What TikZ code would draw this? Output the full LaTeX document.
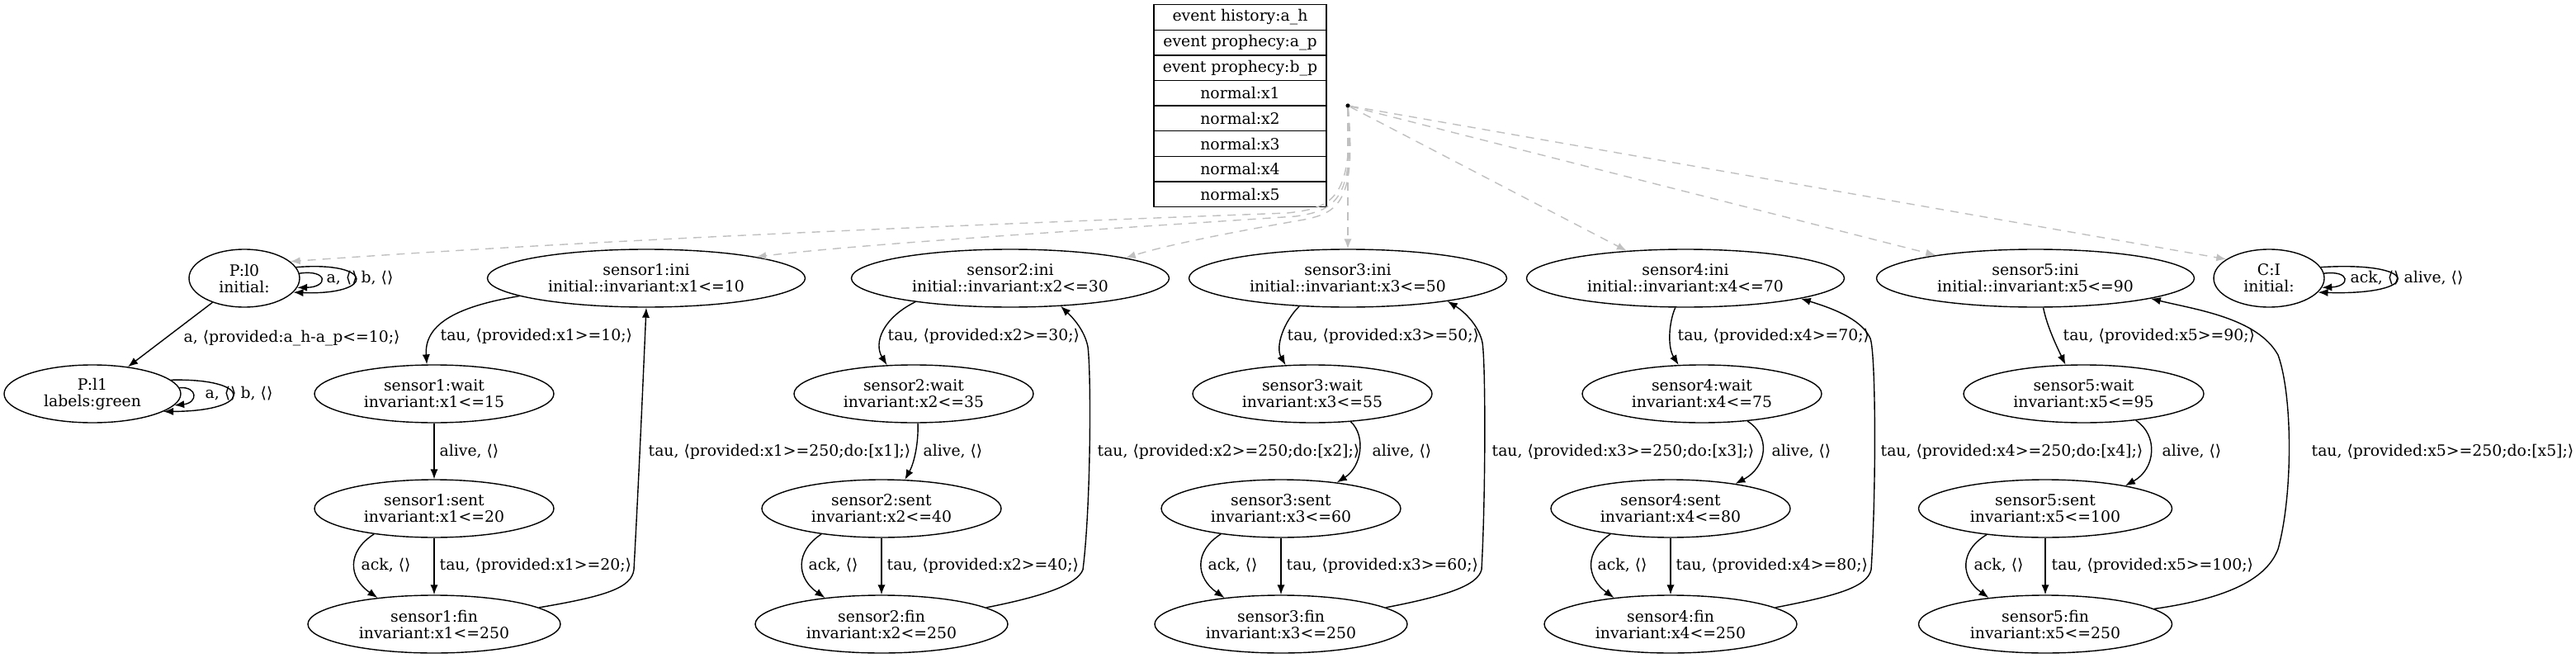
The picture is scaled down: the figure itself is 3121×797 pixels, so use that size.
\documentclass[tikz,border=0pt]{standalone}
\usepackage{fontspec}
\setmainfont{DejaVu Serif}
\newfontfamily\brkfont{DejaVu Sans}
\usetikzlibrary{arrows.meta,shapes.geometric,positioning}
\definecolor{hubgray}{RGB}{192,192,192}
\newcommand{\opang}{{\brkfont ⟨}}
\newcommand{\clang}{{\brkfont ⟩}}

\begin{document}
\begin{tikzpicture}[x=0.5pt,y=0.5pt,
   font=\fontsize{9.4pt}{10pt}\selectfont,
   loc/.style={draw,ellipse,line width=0.7pt,inner sep=0pt,minimum height=35pt,align=center},
   cell/.style={draw,line width=0.7pt,minimum width=104.5pt,minimum height=15.3pt,inner sep=0pt,outer sep=0pt},
   trans/.style={black,-{Latex[length=6pt,width=4.6pt]},line width=0.7pt},
   initarr/.style={hubgray,dash pattern=on 5pt off 4pt,-{Latex[length=6pt,width=4.6pt]},line width=0.7pt},
   lbl/.style={anchor=west,inner sep=0pt}]
   \path[use as bounding box] (0,0) rectangle (3121,-797);

   \node[cell] (r1) at (1502.5,-21) {event history:a\_h};
   \node[cell,below=0pt of r1] (r2) {event prophecy:a\_p};
   \node[cell,below=0pt of r2] (r3) {event prophecy:b\_p};
   \node[cell,below=0pt of r3] (r4) {normal:x1};
   \node[cell,below=0pt of r4] (r5) {normal:x2};
   \node[cell,below=0pt of r5] (r6) {normal:x3};
   \node[cell,below=0pt of r6] (r7) {normal:x4};
   \node[cell,below=0pt of r7] (r8) {normal:x5};
   \node[circle,fill=black,inner sep=0pt,minimum size=2.6pt] (hub) at (1633,-128) {};

   \node[loc,minimum width=67pt] (p0) at (296,-337) {P:l0\\initial:};
   \node[loc,minimum width=107pt] (p1) at (112,-477) {P:l1\\labels:green};
   \node[loc,minimum width=67pt] (ci) at (2749,-337) {C:I\\initial:};

   \node[loc,minimum width=192.5pt] (s1ini) at (783,-337) {sensor1:ini\\initial::invariant:x1<=10};
   \node[loc,minimum width=145pt] (s1wait) at (526,-477) {sensor1:wait\\invariant:x1<=15};
   \node[loc,minimum width=145pt] (s1sent) at (526,-616) {sensor1:sent\\invariant:x1<=20};
   \node[loc,minimum width=153pt] (s1fin) at (526,-756) {sensor1:fin\\invariant:x1<=250};

   \node[loc,minimum width=192.5pt] (s2ini) at (1224,-337) {sensor2:ini\\initial::invariant:x2<=30};
   \node[loc,minimum width=145pt] (s2wait) at (1107,-477) {sensor2:wait\\invariant:x2<=35};
   \node[loc,minimum width=145pt] (s2sent) at (1068,-616) {sensor2:sent\\invariant:x2<=40};
   \node[loc,minimum width=153pt] (s2fin) at (1068,-756) {sensor2:fin\\invariant:x2<=250};

   \node[loc,minimum width=192.5pt] (s3ini) at (1633,-337) {sensor3:ini\\initial::invariant:x3<=50};
   \node[loc,minimum width=145pt] (s3wait) at (1590,-477) {sensor3:wait\\invariant:x3<=55};
   \node[loc,minimum width=145pt] (s3sent) at (1552,-616) {sensor3:sent\\invariant:x3<=60};
   \node[loc,minimum width=153pt] (s3fin) at (1552,-756) {sensor3:fin\\invariant:x3<=250};

   \node[loc,minimum width=192.5pt] (s4ini) at (2042,-337) {sensor4:ini\\initial::invariant:x4<=70};
   \node[loc,minimum width=145pt] (s4wait) at (2062,-477) {sensor4:wait\\invariant:x4<=75};
   \node[loc,minimum width=145pt] (s4sent) at (2024,-616) {sensor4:sent\\invariant:x4<=80};
   \node[loc,minimum width=153pt] (s4fin) at (2024,-756) {sensor4:fin\\invariant:x4<=250};

   \node[loc,minimum width=192.5pt] (s5ini) at (2466,-337) {sensor5:ini\\initial::invariant:x5<=90};
   \node[loc,minimum width=145.5pt] (s5wait) at (2524.5,-477) {sensor5:wait\\invariant:x5<=95};
   \node[loc,minimum width=153.5pt] (s5sent) at (2478,-616) {sensor5:sent\\invariant:x5<=100};
   \node[loc,minimum width=153.5pt] (s5fin) at (2478,-756) {sensor5:fin\\invariant:x5<=250};

   \draw[initarr] (hub)--(s3ini);
   \draw[initarr] (hub)--(s4ini.155);
   \draw[initarr] (hub)--(s5ini.167);
   \draw[initarr] (hub)--(ci.156);
   \draw[initarr] (hub) .. controls (1640,-245) and (1610,-252) .. (1560,-258) .. controls (1100,-275) and (700,-292) .. (p0.20);
   \draw[initarr] (hub) .. controls (1642,-245) and (1615,-255) .. (1570,-262) .. controls (1300,-280) and (1050,-295) .. (s1ini.11);
   \draw[initarr] (hub) .. controls (1644,-245) and (1620,-258) .. (1580,-266) .. controls (1500,-280) and (1420,-295) .. (s2ini.10);

   \draw[trans] (p0)--(p1) node[lbl] (lp01) at (222,-410) {a, \opang provided:a\_h-a\_p<=10;\clang};
   \draw[trans] (p0.5) .. controls (398,-326) and (398,-348) .. (p0.-10) node[lbl] (lp0a) at (395,-337) {a, \opang\clang};
   \draw[trans] (p0.12) .. controls (455,-316) and (455,-358) .. (p0.-16) node[lbl] (lp0b) at (437,-337) {b, \opang\clang};
   \draw[trans] (p1.4) .. controls (240,-468) and (240,-488) .. (p1.-8) node[lbl] (lp1a) at (248,-477) {a, \opang\clang};
   \draw[trans] (p1.10) .. controls (308,-458) and (308,-498) .. (p1.-14) node[lbl] (lp1b) at (291,-477) {b, \opang\clang};
   \draw[trans] (ci.5) .. controls (2848,-327) and (2848,-347) .. (ci.-10) node[lbl] (lcia) at (2847,-337) {ack, \opang\clang};
   \draw[trans] (ci.12) .. controls (2935,-316) and (2935,-358) .. (ci.-16) node[lbl] (lcib) at (2912,-337) {alive, \opang\clang};

   \draw[trans] (s1ini.188) .. controls (548,-372) and (514,-395) .. (s1wait.104) node[lbl] (l1a) at (533,-407) {tau, \opang provided:x1>=10;\clang};
   \draw[trans] (s1wait)--(s1sent) node[lbl] (l1b) at (532,-547) {alive, \opang\clang};
   \draw[trans] (s1sent.203) .. controls (420,-668) and (422,-700) .. (s1fin.155) node[lbl] (l1c) at (437,-685) {ack, \opang\clang};
   \draw[trans] (s1sent)--(s1fin) node[lbl] (l1d) at (532,-685) {tau, \opang provided:x1>=20;\clang};
   \draw[trans] (s1fin.9) .. controls (735,-722) and (765,-712) .. (768,-690) .. controls (775,-560) and (780,-440) .. (s1ini.south) node[lbl] (l1e) at (785,-547) {tau, \opang provided:x1>=250;do:[x1];\clang};

   \draw[trans] (s2ini.194) .. controls (1070,-385) and (1058,-415) .. (s2wait.133) node[lbl] (l2a) at (1075,-407) {tau, \opang provided:x2>=30;\clang};
   \draw[trans] (s2wait.-82) .. controls (1113,-535) and (1108,-560) .. (s2sent.51) node[lbl] (l2b) at (1118,-547) {alive, \opang\clang};
   \draw[trans] (s2sent.203) .. controls (963,-668) and (965,-700) .. (s2fin.155) node[lbl] (l2c) at (979,-685) {ack, \opang\clang};
   \draw[trans] (s2sent)--(s2fin) node[lbl] (l2d) at (1074,-685) {tau, \opang provided:x2>=40;\clang};
   \draw[trans] (s2fin.9) .. controls (1265,-722) and (1305,-708) .. (1312,-690) .. controls (1322,-610) and (1322,-450) .. (1318,-420) .. controls (1314,-400) and (1300,-385) .. (s2ini.-29) node[lbl] (l2e) at (1329,-547) {tau, \opang provided:x2>=250;do:[x2];\clang};

   \draw[trans] (s3ini.210) .. controls (1555,-390) and (1545,-420) .. (s3wait.133) node[lbl] (l3a) at (1559,-407) {tau, \opang provided:x3>=50;\clang};
   \draw[trans] (s3wait.-36) .. controls (1655,-528) and (1650,-565) .. (s3sent.25) node[lbl] (l3b) at (1662,-547) {alive, \opang\clang};
   \draw[trans] (s3sent.203) .. controls (1446,-668) and (1449,-700) .. (s3fin.155) node[lbl] (l3c) at (1463,-685) {ack, \opang\clang};
   \draw[trans] (s3sent)--(s3fin) node[lbl] (l3d) at (1558,-685) {tau, \opang provided:x3>=60;\clang};
   \draw[trans] (s3fin.9) .. controls (1750,-722) and (1790,-710) .. (1795,-690) .. controls (1800,-600) and (1800,-440) .. (1796,-415) .. controls (1792,-395) and (1775,-378) .. (s3ini.-13) node[lbl] (l3e) at (1807,-547) {tau, \opang provided:x3>=250;do:[x3];\clang};

   \draw[trans] (s4ini.-109) .. controls (2022,-390) and (2020,-420) .. (s4wait.129) node[lbl] (l4a) at (2032,-407) {tau, \opang provided:x4>=70;\clang};
   \draw[trans] (s4wait.-31) .. controls (2145,-527) and (2142,-565) .. (s4sent.21) node[lbl] (l4b) at (2146,-547) {alive, \opang\clang};
   \draw[trans] (s4sent.203) .. controls (1919,-668) and (1922,-700) .. (s4fin.155) node[lbl] (l4c) at (1935,-685) {ack, \opang\clang};
   \draw[trans] (s4sent)--(s4fin) node[lbl] (l4d) at (2030,-685) {tau, \opang provided:x4>=80;\clang};
   \draw[trans] (s4fin.9) .. controls (2222,-722) and (2262,-712) .. (2267,-690) .. controls (2273,-600) and (2273,-430) .. (2266,-410) .. controls (2255,-385) and (2215,-372) .. (s4ini.-10) node[lbl] (l4e) at (2278,-547) {tau, \opang provided:x4>=250;do:[x4];\clang};

   \draw[trans] (s5ini.-75) .. controls (2480,-395) and (2492,-420) .. (s5wait.122) node[lbl] (l5a) at (2499,-407) {tau, \opang provided:x5>=90;\clang};
   \draw[trans] (s5wait.-27) .. controls (2615,-527) and (2612,-568) .. (s5sent.16) node[lbl] (l5b) at (2619,-547) {alive, \opang\clang};
   \draw[trans] (s5sent.204) .. controls (2373,-668) and (2376,-700) .. (s5fin.155) node[lbl] (l5c) at (2391,-685) {ack, \opang\clang};
   \draw[trans] (s5sent)--(s5fin) node[lbl] (l5d) at (2485,-685) {tau, \opang provided:x5>=100;\clang};
   \draw[trans] (s5fin.8) .. controls (2690,-726) and (2745,-705) .. (2760,-665) .. controls (2778,-600) and (2778,-480) .. (2760,-430) .. controls (2735,-385) and (2660,-375) .. (s5ini.-10) node[lbl] (l5e) at (2800,-547) {tau, \opang provided:x5>=250;do:[x5];\clang};
\end{tikzpicture}
\end{document}
